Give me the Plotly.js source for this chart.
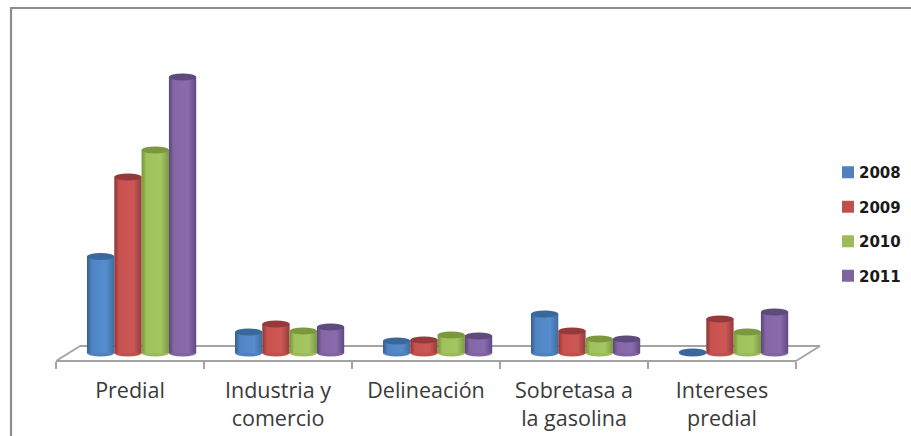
<!DOCTYPE html>
<html><head><meta charset="utf-8">
<script src="https://cdn.plot.ly/plotly-3.0.1.min.js"></script>
<style>html,body{margin:0;padding:0;background:#fff}</style>
</head><body><div id="chart" style="width:911px;height:436px"></div>
<script>
const categories = ["Predial","Industria y<br>comercio","Delineación","Sobretasa a<br>la gasolina","Intereses<br>predial"];
const years = ["2008","2009","2010","2011"];
const v2008 = [96.5,21,12,39,1];
const v2009 = [176,29,13,22,34];
const v2010 = [203,22,18,14,21];
const v2011 = [276,26,17,14,41];
const seriesValues = [v2008,v2009,v2010,v2011];
const bodyColors = ["#4f81bd","#c0504d","#9bbb59","#8064a2"];
const capColors = ["#38689c","#96393a","#7c983f","#5f4a7c"];
const gradients = [
  ["#35608f","#4f85c4","#568dcc","#3f6d9f"],
  ["#8e3634","#c9524f","#cc5856","#933c3a"],
  ["#769339","#a0c25c","#a5c763","#7d9a42"],
  ["#5b4678","#8567a8","#8a6cae","#60497f"]
];
const W=911,H=436;
const fx=p=>p/W, fy=p=>1-p/H;
const gap=0.262, bw=(1-gap)/4;

const traces = seriesValues.map((vals,s)=>({
  type:"bar",name:years[s],x:categories,y:vals,xaxis:"x",yaxis:"y",
  legendgroup:years[s],
  marker:{color:bodyColors[s],line:{width:0}},hoverinfo:"skip"
}));
traces.push({type:"bar",x:categories,y:categories.map(()=>null),xaxis:"x2",yaxis:"y",showlegend:false,hoverinfo:"skip"});

const shapes=[];
const floorLine={color:"#a3a3a3",width:2};
shapes.push({type:"line",xref:"paper",yref:"paper",x0:fx(80),x1:fx(820),y0:fy(346),y1:fy(346),line:floorLine,layer:"below"});
shapes.push({type:"line",xref:"paper",yref:"paper",x0:fx(56),x1:fx(80),y0:fy(361),y1:fy(346),line:floorLine,layer:"below"});
shapes.push({type:"line",xref:"paper",yref:"paper",x0:fx(796),x1:fx(820),y0:fy(361),y1:fy(346),line:floorLine,layer:"below"});
shapes.push({type:"rect",xref:"paper",yref:"paper",x0:fx(11),x1:fx(1000),y0:fy(8),y1:fy(500),line:{color:"#8c8c8c",width:2.2},layer:"below"});
const ry=3.5;
seriesValues.forEach((vals,s)=>vals.forEach((v,c)=>{
  const cx=c+(s-1.5)*bw;
  shapes.push({type:"circle",xref:"x",yref:"y",x0:cx-bw/2,x1:cx+bw/2,y0:-ry,y1:ry,fillcolor:s===0&&v<3?capColors[s]:bodyColors[s],line:{width:0},layer:"below"});
  shapes.push({type:"circle",xref:"x",yref:"y",x0:cx-bw/2,x1:cx+bw/2,y0:v-ry,y1:v+ry,fillcolor:capColors[s],line:{width:0},layer:"above"});
}));

const layout={
  width:W,height:H,autosize:false,
  margin:{l:0,r:0,t:0,b:0,pad:0,autoexpand:false},
  paper_bgcolor:"#fff",plot_bgcolor:"rgba(0,0,0,0)",
  barmode:"group",bargap:gap,bargroupgap:0,
  showlegend:true,
  legend:{x:fx(828),y:fy(156),xanchor:"left",yanchor:"top",tracegroupgap:12,
    font:{family:"DejaVu Sans",size:15,color:"#1a1a1a",weight:700},itemwidth:30,bgcolor:"rgba(0,0,0,0)",itemclick:false},
  xaxis:{domain:[fx(67.6),fx(807.6)],type:"category",categoryarray:categories,range:[-0.5,4.5],visible:false,fixedrange:true},
  xaxis2:{domain:[fx(56),fx(796)],type:"category",categoryarray:categories,categoryorder:"array",range:[-0.5,4.5],
    anchor:"free",position:fy(361),showline:true,linecolor:"#a3a3a3",linewidth:2,
    ticks:"outside",ticklen:7,tickwidth:2,tickcolor:"#a3a3a3",tickson:"boundaries",showgrid:false,zeroline:false,
    ticklabelstandoff:10,
    tickangle:0,tickfont:{family:"Open Sans",size:21.5,color:"#3a3a3a"},fixedrange:true},
  yaxis:{domain:[fy(363),fy(63)],range:[-10,290],visible:false,fixedrange:true},
  shapes
};

Plotly.newPlot("chart",traces,layout,{displayModeBar:false,staticPlot:true}).then(gd=>{
  const svg=gd.querySelector("svg.main-svg");
  const NS="http://www.w3.org/2000/svg";
  const defs=document.createElementNS(NS,"defs");
  gradients.forEach((g,i)=>{
    const lg=document.createElementNS(NS,"linearGradient");
    lg.setAttribute("id","cyl"+i);
    lg.setAttribute("x1","0");lg.setAttribute("x2","1");lg.setAttribute("y1","0");lg.setAttribute("y2","0");
    [0,0.18,0.7,1].forEach((o,j)=>{
      const st=document.createElementNS(NS,"stop");
      st.setAttribute("offset",o);st.setAttribute("stop-color",g[j]);lg.appendChild(st);
    });
    defs.appendChild(lg);
  });
  svg.insertBefore(defs,svg.firstChild);
  gd.querySelectorAll(".barlayer .trace").forEach((tr,i)=>{
    if(i<4) tr.querySelectorAll("path").forEach(p=>p.style.fill="url(#cyl"+i+")");
  });
  gd.querySelectorAll(".legendtext").forEach(t=>{
    t.setAttribute("x",parseFloat(t.getAttribute("x"))-9);
  });
});
</script></body></html>
